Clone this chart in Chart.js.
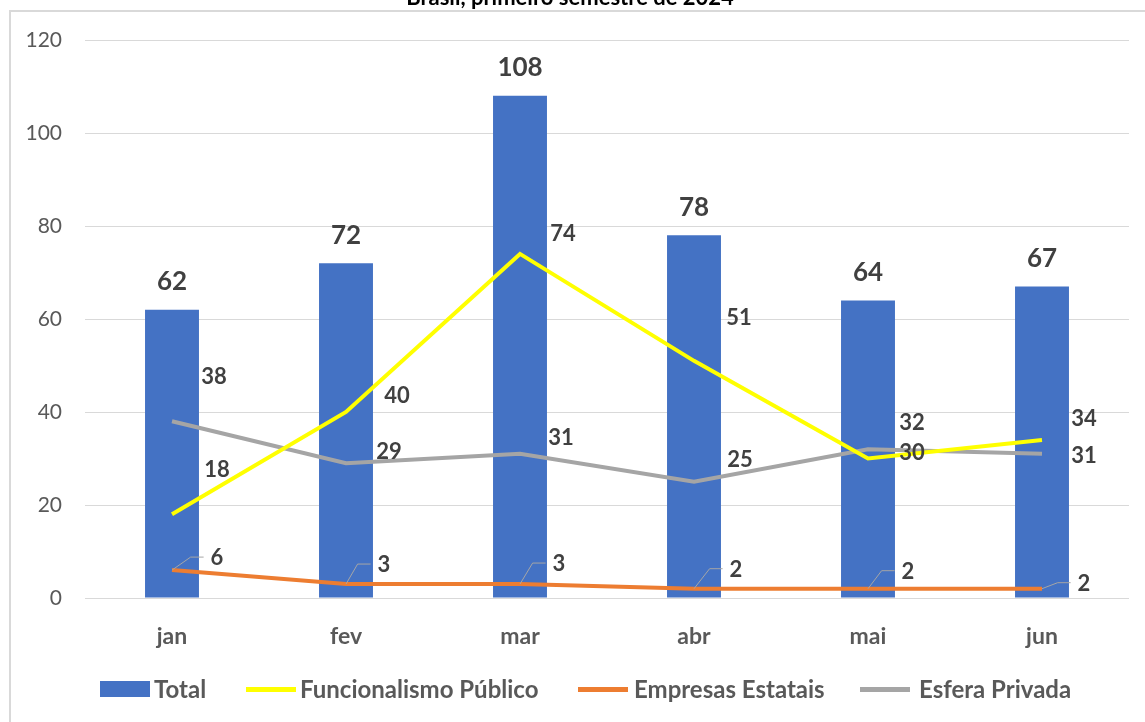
<!DOCTYPE html>
<html>
<head>
<meta charset="utf-8">
<script src="https://cdn.jsdelivr.net/npm/chart.js@4"></script>
<style>
  body { margin: 0; background: #fff; overflow: hidden; font-family: Lato, "Open Sans", sans-serif; }
  #wrap { position: relative; width: 1145px; height: 722px; }
  #frame { position: absolute; left: 9px; top: 10px; width: 1200px; height: 800px; border: 2px solid #d9d9d9; pointer-events: none; }
  #title { position: absolute; left: 0; top: -15px; width: 1140px; text-align: center; font: bold 22px Lato, sans-serif; line-height: 24px; color: #000; }
  #legend { position: absolute; left: 0; top: 673px; width: 1145px; height: 32px; font: bold 24px Lato, sans-serif; color: #595959; }
  .sw { position: absolute; width: 50px; }
  .txt { position: absolute; top: 0; line-height: 32px; white-space: nowrap; }
</style>
</head>
<body>
<div id="wrap">
  <div id="title">Brasil, primeiro semestre de 2024</div>
  <div id="frame"></div>
  <canvas id="chart" width="1145" height="722"></canvas>
  <div id="legend"></div>
</div>
<script>
var months = ["jan", "fev", "mar", "abr", "mai", "jun"];
var total = [62, 72, 108, 78, 64, 67];
var funcionalismo = [18, 40, 74, 51, 30, 34];
var estatais = [6, 3, 3, 2, 2, 2];
var privada = [38, 29, 31, 25, 32, 31];
var yTicks = [0, 20, 40, 60, 80, 100, 120];

// label placement, relative to each point (label centre)
var labelShift = {
  "Funcionalismo Público": [[45, -44], [51, -16], [43, -20], [45, -43], [44, -6], [42, -21]],
  "Esfera Privada": [[42, -44], [43, -11], [41, -16], [46, -22], [44, -26], [42, 2]],
  "Empresas Estatais": [[45, -12], [38, -19], [39, -20], [42, -19], [40, -17], [42, -5]]
};

var series = [
  { label: "Total", color: "#4472C4", bar: true, sx: 100, tx: 154 },
  { label: "Funcionalismo Público", color: "#FFFF00", sx: 246, tx: 300 },
  { label: "Empresas Estatais", color: "#ED7D31", sx: 578, tx: 634 },
  { label: "Esfera Privada", color: "#A5A5A5", sx: 860, tx: 919 }
];

var legend = document.getElementById('legend');
series.forEach(function (s) {
  var sw = document.createElement('div');
  sw.className = 'sw';
  sw.style.background = s.color;
  sw.style.left = s.sx + 'px';
  sw.style.height = s.bar ? '16px' : '5px';
  sw.style.top = s.bar ? '8px' : '14px';
  var t = document.createElement('span');
  t.className = 'txt';
  t.style.left = s.tx + 'px';
  t.textContent = s.label;
  legend.appendChild(sw);
  legend.appendChild(t);
});

var labelPlugin = {
  id: 'valueLabels',
  afterDatasetsDraw: function (chart) {
    var ctx = chart.ctx;
    ctx.save();
    ctx.fillStyle = '#404040';
    ctx.textAlign = 'center';
    ctx.textBaseline = 'middle';
    chart.data.datasets.forEach(function (ds, di) {
      var meta = chart.getDatasetMeta(di);
      meta.data.forEach(function (el, i) {
        var txt = String(ds.data[i]);
        if (ds.type === 'bar') {
          ctx.font = 'bold 26px Lato';
          ctx.fillText(txt, el.x, el.y - 28);
          return;
        }
        var sh = labelShift[ds.label][i];
        var lx = el.x + sh[0], ly = el.y + sh[1];
        ctx.font = 'bold 22px Lato';
        if (ds.label === "Empresas Estatais") {
          var left = lx - ctx.measureText(txt).width / 2;
          ctx.strokeStyle = '#a6a6a6';
          ctx.lineWidth = 1;
          ctx.beginPath();
          ctx.moveTo(el.x, el.y);
          ctx.lineTo(left - 20, ly - 1);
          ctx.lineTo(left - 7, ly - 1);
          ctx.stroke();
        }
        ctx.fillText(txt, lx, ly);
      });
    });
    ctx.restore();
  }
};

function lineSet(label, data, color) {
  return {
    type: 'line', label: label, data: data, borderColor: color, backgroundColor: color,
    borderWidth: 4, pointRadius: 0, tension: 0, order: 1
  };
}

new Chart(document.getElementById('chart'), {
  data: {
    labels: months,
    datasets: [
      { type: 'bar', label: 'Total', data: total, backgroundColor: '#4472C4',
        categoryPercentage: 1, barPercentage: 0.31, order: 2 },
      lineSet("Funcionalismo Público", funcionalismo, '#FFFF00'),
      lineSet("Empresas Estatais", estatais, '#ED7D31'),
      lineSet("Esfera Privada", privada, '#A5A5A5')
    ]
  },
  options: {
    responsive: false,
    animation: false,
    layout: { padding: { top: 40, right: 16, left: 0, bottom: 0 } },
    plugins: { legend: { display: false }, tooltip: { enabled: false } },
    scales: {
      x: {
        grid: { display: false },
        border: { display: false },
        ticks: { color: '#595959', font: { family: 'Lato', size: 23, weight: 'bold' }, padding: 17 },
        afterFit: function (s) { s.height = 124; }
      },
      y: {
        min: 0, max: 120,
        afterBuildTicks: function (s) { s.ticks = yTicks.map(function (v) { return { value: v }; }); },
        grid: { color: '#d9d9d9', drawTicks: false, lineWidth: 1 },
        border: { display: false },
        ticks: { color: '#595959', font: { family: 'Lato', size: 21 }, padding: 23 },
        afterFit: function (s) { s.width = 85; }
      }
    }
  },
  plugins: [labelPlugin]
});
</script>
</body>
</html>
